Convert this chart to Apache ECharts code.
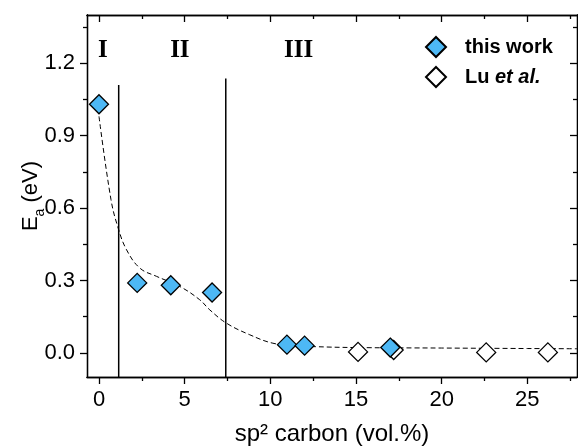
<!DOCTYPE html>
<html>
<head>
<meta charset="utf-8">
<script src="https://cdn.jsdelivr.net/npm/echarts@6/dist/echarts.min.js"></script>
<style>html,body{margin:0;padding:0;background:#fff}#c{width:578px;height:448px}</style>
</head>
<body>
<div id="c"></div>
<script>
// ---- data ----
const thisWorkX = [0, 2.23, 4.19, 6.6, 10.97, 12.0, 17.0];
const thisWorkY = [1.03, 0.29, 0.28, 0.25, 0.034, 0.03, 0.022];
const luX = [15.12, 17.2, 22.6, 26.2];
const luY = [0.004, 0.012, 0.002, 0.002];
const fitX = [0, 0.7, 1.12, 1.61, 2.39, 3.36, 4.72, 5.88, 6.47, 7.44, 8.8, 10.15, 11.5, 12.5, 15, 20, 25, 27.9];
const fitY = [0.98, 0.635, 0.517, 0.427, 0.351, 0.317, 0.275, 0.22, 0.178, 0.123, 0.075, 0.04, 0.03, 0.026, 0.022, 0.02, 0.018, 0.017];
const boundX = [1.15, 7.4];
const boundTop = [1.11, 1.137];
const regionNames = ['I', 'II', 'III'];
const regionX = [0.23, 4.72, 11.65];
const regionY = [1.253, 1.253, 1.253];
const xMajor = [0, 5, 10, 15, 20, 25];
const xMinor = [2.5, 7.5, 12.5, 17.5, 22.5, 27.5];
const yMajor = [0, 0.3, 0.6, 0.9, 1.2];
const yMinor = [0.15, 0.45, 0.75, 1.05, 1.35];
const xMin = -0.7, xMax = 27.9, yMin = -0.1, yMax = 1.4;

const SANS = 'Liberation Sans, Arial, sans-serif';
const SERIF = 'Liberation Serif, Times New Roman, serif';
const lineSt = {color: '#000', width: 1.3};

function xAx(pos, ticks, len, withLabels, extra) {
  return Object.assign({
    type: 'value', min: xMin, max: xMax, position: pos,
    axisLine: {show: true, onZero: false, lineStyle: lineSt},
    axisTick: {show: true, inside: pos === 'top', length: len, customValues: ticks, lineStyle: lineSt},
    axisLabel: withLabels ? {show: true, customValues: xMajor, margin: 12, fontSize: 22, color: '#000', fontFamily: SANS} : {show: false},
    splitLine: {show: false}
  }, extra || {});
}
function yAx(pos, ticks, len, withLabels, extra) {
  return Object.assign({
    type: 'value', min: yMin, max: yMax, position: pos,
    axisLine: {show: true, onZero: false, lineStyle: lineSt},
    axisTick: {show: true, inside: pos === 'right', length: len, customValues: ticks, lineStyle: lineSt},
    axisLabel: withLabels ? {show: true, customValues: yMajor, margin: 12, fontSize: 22, color: '#000', fontFamily: SANS,
      formatter: v => v.toFixed(1)} : {show: false},
    splitLine: {show: false}
  }, extra || {});
}

const pairs = (xs, ys) => xs.map((x, i) => [x, ys[i]]);

const series = [];
boundX.forEach((bx, i) => {
  series.push({type: 'line', data: [[bx, yMin], [bx, boundTop[i]]], symbol: 'none',
    lineStyle: {color: '#000', width: 1.5}, silent: true, z: 2});
});
series.push({type: 'line', name: 'fit', data: pairs(fitX, fitY), smooth: 0.4, symbol: 'none',
  lineStyle: {color: '#000', width: 1, type: [5, 3]}, z: 3});
series.push({type: 'scatter', name: 'Lu et al.', data: pairs(luX, luY), symbol: 'diamond', symbolSize: 19,
  itemStyle: {color: '#ffffff', borderColor: '#000', borderWidth: 1.3, opacity: 1}, z: 4});
series.push({type: 'scatter', name: 'this work', data: pairs(thisWorkX, thisWorkY), symbol: 'diamond', symbolSize: 19,
  itemStyle: {color: '#4db8f5', borderColor: '#000', borderWidth: 1.3, opacity: 1}, z: 5});
series.push({type: 'scatter', name: 'regions', symbolSize: 0, itemStyle: {opacity: 1},
  data: regionNames.map((n, i) => ({value: [regionX[i], regionY[i]], name: n})),
  label: {show: true, position: 'inside', formatter: p => p.name, fontFamily: SERIF, fontWeight: 'bold', fontSize: 25,
    color: '#000', textBorderWidth: 0, opacity: 1},
  silent: true, z: 6});

const option = {
  animation: false,
  backgroundColor: '#fff',
  grid: {left: 87, right: 1, top: 15, bottom: 71, containLabel: false, outerBoundsMode: 'none'},
  legend: {
    data: ['this work', 'Lu et al.'], orient: 'vertical', left: 420, top: 31,
    itemWidth: 20, itemHeight: 20, itemGap: 8,
    formatter: n => n === 'Lu et al.' ? 'Lu {i|et al.}' : n,
    textStyle: {fontFamily: SANS, fontWeight: 'bold', fontSize: 20, color: '#000', padding: [0, 0, 0, 14],
      rich: {i: {fontFamily: SANS, fontStyle: 'italic', fontWeight: 'bold', fontSize: 20, color: '#000'}}}
  },
  xAxis: [
    xAx('bottom', xMajor, 7, true, {name: 'sp\u00b2 carbon (vol.%)', nameLocation: 'middle', nameGap: 45, nameMoveOverlap: false,
      nameTextStyle: {fontFamily: SANS, fontSize: 24, color: '#000'}}),
    xAx('bottom', xMinor, 4, false),
    xAx('top', xMajor, 7, false),
    xAx('top', xMinor, 4, false)
  ],
  yAxis: [
    yAx('left', yMajor, 7, true, {name: '{e|E}{s|a}{e| (eV)}', nameLocation: 'middle', nameGap: 45, nameMoveOverlap: false,
      nameTextStyle: {rich: {
        e: {fontFamily: SANS, fontSize: 22, color: '#000', lineHeight: 22, verticalAlign: 'top'},
        s: {fontFamily: SANS, fontSize: 14, color: '#000', lineHeight: 14, padding: [13, 0, 0, 0], verticalAlign: 'top'}
      }}}),
    yAx('left', yMinor, 4, false),
    yAx('right', yMajor, 7, false),
    yAx('right', yMinor, 4, false)
  ],
  series: series
};
echarts.init(document.getElementById('c'), null, {renderer: 'canvas'}).setOption(option);
</script>
</body>
</html>
